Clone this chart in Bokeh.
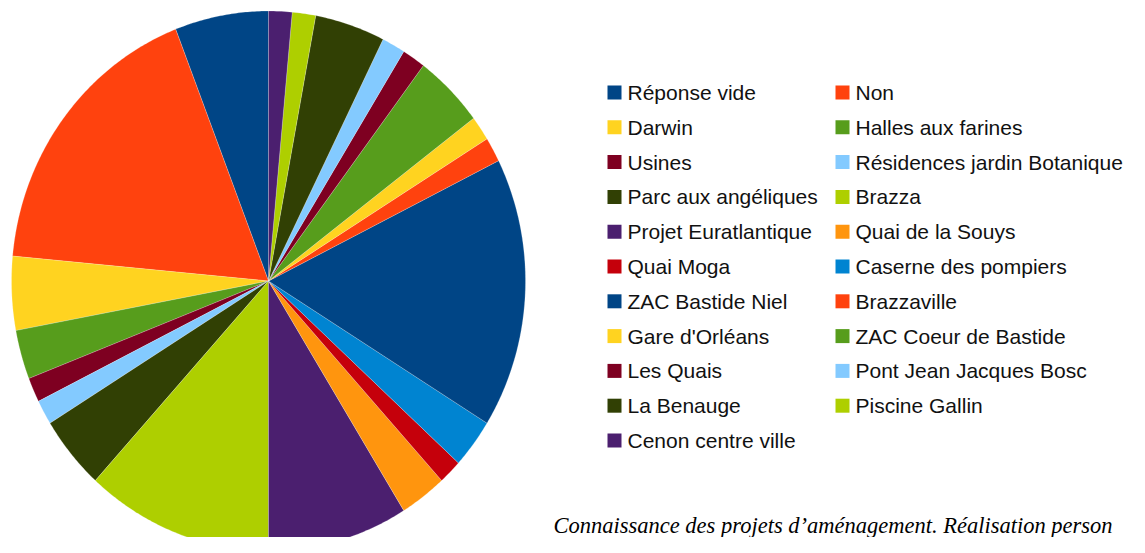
import numpy as np
from bokeh.plotting import figure
from bokeh.models import Range1d, ColumnDataSource
from bokeh.core.properties import value
from bokeh.embed import file_html
from bokeh.resources import INLINE

# ---- data ----
categories = [
    "Réponse vide", "Non", "Darwin", "Halles aux farines", "Usines",
    "Résidences jardin Botanique", "Parc aux angéliques", "Brazza",
    "Projet Euratlantique", "Quai de la Souys", "Quai Moga",
    "Caserne des pompiers", "ZAC Bastide Niel", "Brazzaville",
    "Gare d'Orléans", "ZAC Coeur de Bastide", "Les Quais",
    "Pont Jean Jacques Bosc", "La Benauge", "Piscine Gallin",
    "Cenon centre ville",
]
counts = [4, 12, 3, 2, 1, 1, 3, 8, 6, 2, 1, 2, 11, 1, 1, 3, 1, 1, 3, 1, 1]
palette = ["#004586", "#ff420e", "#ffd320", "#579d1c", "#7e0021", "#83caff",
           "#314004", "#aecf00", "#4b1f6f", "#ff950e", "#c5000b", "#0084d1"]
caption = "Connaissance des projets d’aménagement. Réalisation person"

W, H = 1129, 537
p = figure(width=W, height=H, output_backend="svg", toolbar_location=None,
           x_range=Range1d(0, W), y_range=Range1d(H, 0),
           min_border=0)
p.axis.visible = False
p.grid.visible = False
p.outline_line_color = None
p.background_fill_color = "white"
p.border_fill_color = "white"

# ---- pie (counter-clockwise from 12 o'clock) ----
cx, cy, rx, ry = 268.0, 280.5, 257.0, 270.0
vals = np.array(counts, dtype=float)
ends = np.cumsum(vals) / vals.sum() * 2 * np.pi
starts = np.concatenate([[0.0], ends[:-1]])
colors = [palette[i % len(palette)] for i in range(len(categories))]
xs, ys = [], []
for a0, a1 in zip(starts, ends):
    n = max(4, int(np.degrees(a1 - a0) * 2))
    t = np.linspace(a0, a1, n)
    xs.append(np.concatenate([[cx], cx - rx * np.sin(t)]).tolist())
    ys.append(np.concatenate([[cy], cy - ry * np.cos(t)]).tolist())
p.patches(xs=xs, ys=ys, fill_color=colors, line_color="white",
          line_alpha=0.35, line_width=0.6)

# ---- legend (two columns, row-major) ----
col_text_x = [627.0, 855.0]
row0_y, row_dy, sq = 92.0, 34.8, 14.0
lx, ly, sx = [], [], []
for i, name in enumerate(categories):
    c, r = i % 2, i // 2
    lx.append(col_text_x[c])
    ly.append(row0_y + r * row_dy)
    sx.append(col_text_x[c] - 13.0)
leg = ColumnDataSource(dict(x=lx, y=ly, sx=sx, label=categories, color=colors))
p.rect(x="sx", y="y", width=sq, height=sq, fill_color="color", line_color=None,
       source=leg)
p.text(x="x", y="y", text="label", source=leg, text_font=value("Liberation Sans"),
       text_font_size="21px", text_color="#111111", text_baseline="middle",
       text_align="left")

# ---- caption ----
p.text(x=[553.0], y=[525.0], text=[caption], text_font=value("Liberation Serif"),
       text_font_style="italic", text_font_size="22.5px", text_color="#000000",
       text_baseline="alphabetic", text_align="left")

open("out.html", "w").write(file_html(p, INLINE))
